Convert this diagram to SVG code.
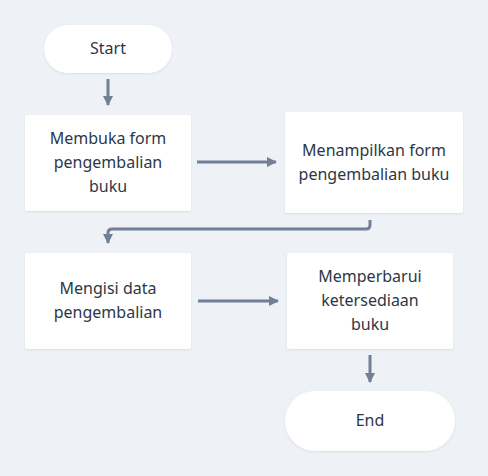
<svg xmlns="http://www.w3.org/2000/svg" width="488" height="476" viewBox="0 0 488 476">
<defs>
<marker id="ah" viewBox="0 0 10 10" refX="9" refY="5" markerWidth="3.5" markerHeight="3.5" orient="auto" markerUnits="strokeWidth">
<path d="M0,0 L10,5 L0,10 z" fill="#718096"/>
</marker>
<filter id="sh" x="-10%" y="-10%" width="120%" height="130%">
<feDropShadow dx="0" dy="1" stdDeviation="1.2" flood-color="#94a3b8" flood-opacity="0.25"/>
</filter>
</defs>
<style>
.n{fill:#ffffff;filter:url(#sh)}
.t{font-family:"Noto Sans","DejaVu Sans",sans-serif;font-size:16px;fill:#2d3748;text-anchor:middle;dominant-baseline:central}
.c{fill:none;stroke:#718096;stroke-width:3;marker-end:url(#ah)}
</style>
<rect width="488" height="476" fill="#eef2f6"/>
<g id="connectors">
<path class="c" d="M108,79 L108,105"/>
<path class="c" d="M197,162 L276,162"/>
<path class="c" d="M370,220 L370,225 Q370,229 366,229 L112,229 Q108,229 108,233 L108,243"/>
<path class="c" d="M198,301 L278,301"/>
<path class="c" d="M370,355 L370,382"/>
</g>
<g id="start">
<rect class="n" x="44" y="25" width="128" height="48" rx="24"/>
<text class="t" x="108" y="48">Start</text>
</g>
<g id="n1">
<rect class="n" x="25" y="115" width="166" height="96" rx="2"/>
<text class="t" x="108" y="138">Membuka form</text>
<text class="t" x="108" y="162">pengembalian</text>
<text class="t" x="108" y="186">buku</text>
</g>
<g id="n2">
<rect class="n" x="285" y="112" width="178" height="101" rx="2"/>
<text class="t" x="374" y="150">Menampilkan form</text>
<text class="t" x="374" y="174">pengembalian buku</text>
</g>
<g id="n3">
<rect class="n" x="25" y="253" width="166" height="96" rx="2"/>
<text class="t" x="108" y="288">Mengisi data</text>
<text class="t" x="108" y="312">pengembalian</text>
</g>
<g id="n4">
<rect class="n" x="287" y="253" width="166" height="96" rx="2"/>
<text class="t" x="370" y="276">Memperbarui</text>
<text class="t" x="370" y="300">ketersediaan</text>
<text class="t" x="370" y="324">buku</text>
</g>
<g id="end">
<rect class="n" x="285" y="391" width="170" height="60" rx="30"/>
<text class="t" x="370" y="420">End</text>
</g>
</svg>
